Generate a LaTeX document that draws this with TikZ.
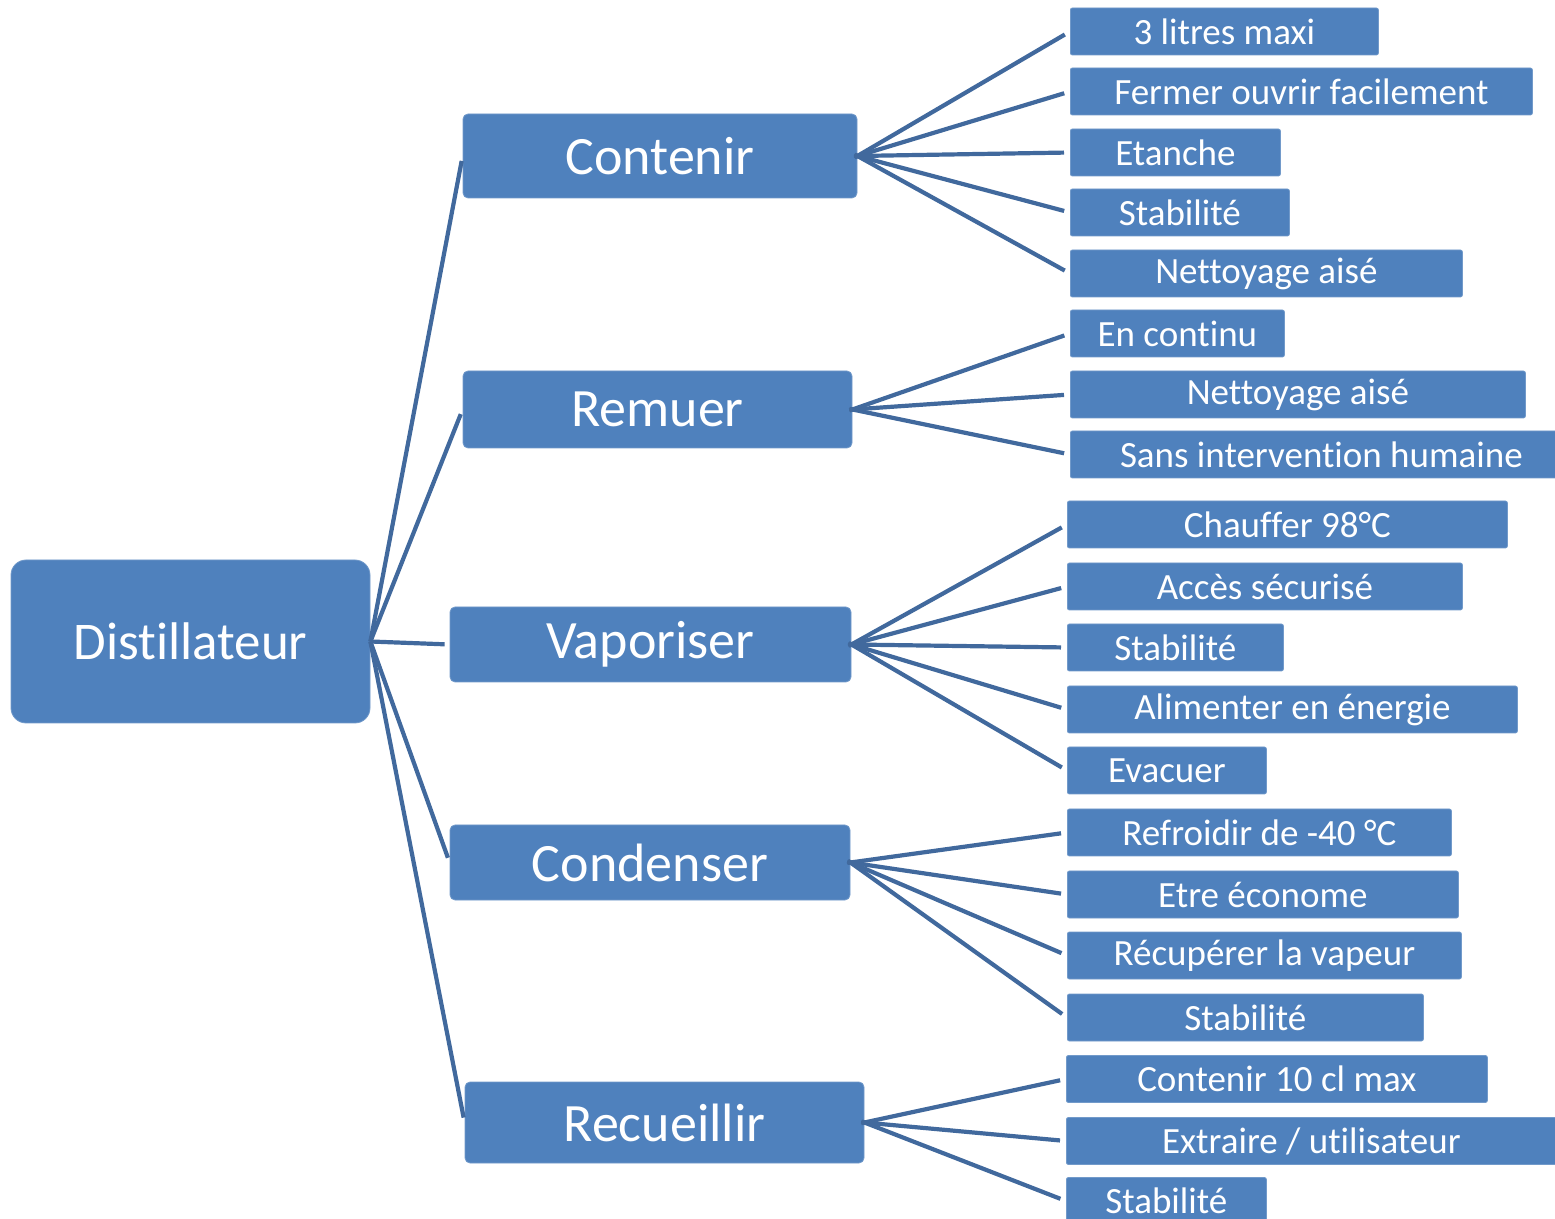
\documentclass[tikz,border=0pt]{standalone}
\usepackage{fontspec}
\setmainfont{Carlito}[Ligatures={NoCommon,NoContextual}]
\usepackage{xcolor}
\usepackage{tikz}
\definecolor{boxblue}{HTML}{4F81BD}
\definecolor{edgeblue}{HTML}{41699D}

\begin{document}
\begin{tikzpicture}[
        x=0.5pt, y=-0.5pt,
        root/.style={rectangle, rounded corners=7.5pt, fill=boxblue,
                draw=boxblue!80!white, line width=0.4pt, text=white,
                minimum width=179.5pt, minimum height=81.5pt,
                font=\fontsize{26.5}{32}\selectfont},
        func/.style={rectangle, rounded corners=2.5pt, fill=boxblue,
                draw=boxblue!80!white, line width=0.4pt, text=white,
                font=\fontsize{27}{32}\selectfont},
        leaf/.style={rectangle, rounded corners=1pt, fill=boxblue,
                draw=boxblue!80!white, line width=0.4pt, text=white,
                anchor=west, minimum height=23.5pt, inner sep=0pt,
                font=\fontsize{18.5}{22}\selectfont},
        edge/.style={edgeblue, line width=2.1pt},
        leafedge/.style={edge, shorten <=-1.5pt, shorten >=3pt},
    ]
    \useasboundingbox (0,0) rectangle (1555,1219);

    \node[root] (root) at (190.5, 641.5) {Distillateur};

    \node[func, minimum width=197pt, minimum height=42pt]
        (contenir) at (660, 156) {Contenir};
    \node[func, minimum width=194.5pt, minimum height=38.5pt]
        (remuer) at (657.5, 409.5) {Remuer};
    \node[func, minimum width=200.5pt, minimum height=37.5pt]
        (vaporiser) at (650.5, 644.5) {Vaporiser};
    \node[func, minimum width=200pt, minimum height=37.5pt]
        (condenser) at (650, 862.5) {Condenser};
    \node[func, minimum width=199.5pt, minimum height=40.5pt]
        (recueillir) at (664.5, 1122.5) {Recueillir};

    % Contenir
    \node[leaf, minimum width=154pt] (cont1) at (1070, 31.5) {3 litres maxi};
    \node[leaf, minimum width=231pt] (cont2) at (1070, 91.5) {Fermer ouvrir facilement};
    \node[leaf, minimum width=105pt] (cont3) at (1070, 152.5) {Etanche};
    \node[leaf, minimum width=109.5pt] (cont4) at (1070, 212.5) {Stabilité};
    \node[leaf, minimum width=196pt] (cont5) at (1070, 273.5) {Nettoyage aisé};

    % Remuer
    \node[leaf, minimum width=107pt] (rem1) at (1070, 333.5) {En continu};
    \node[leaf, minimum width=227.5pt] (rem2) at (1070, 394.5) {Nettoyage aisé};
    \node[leaf, minimum width=251pt] (rem3) at (1070, 454.5) {Sans intervention humaine};

    % Vaporiser
    \node[leaf, minimum width=220pt] (vap1) at (1067, 524.5) {Chauffer 98°C};
    \node[leaf, minimum width=197.5pt] (vap2) at (1067, 586.5) {Accès sécurisé};
    \node[leaf, minimum width=108pt] (vap3) at (1067, 647.5) {Stabilité};
    \node[leaf, minimum width=225pt] (vap4) at (1067, 709.5) {Alimenter en énergie};
    \node[leaf, minimum width=99.5pt] (vap5) at (1067, 770.5) {Evacuer};

    % Condenser
    \node[leaf, minimum width=192pt] (cond1) at (1067, 832.5) {Refroidir de -40 °C};
    \node[leaf, minimum width=195.5pt] (cond2) at (1067, 894.5) {Etre économe};
    \node[leaf, minimum width=197pt] (cond3) at (1067, 955.5) {Récupérer la vapeur};
    \node[leaf, minimum width=178pt] (cond4) at (1067, 1017.5) {Stabilité};

    % Recueillir
    \node[leaf, minimum width=210.5pt] (rec1) at (1066, 1079) {Contenir 10 cl max};
    \node[leaf, minimum width=245pt] (rec2) at (1066, 1141) {Extraire / utilisateur};
    \node[leaf, minimum width=100pt] (rec3) at (1066, 1201) {Stabilité};

    \foreach \n in {contenir, remuer, vaporiser, condenser, recueillir}
        \draw[edge, shorten >=2.5pt] (root.east) -- (\n.west);

    \foreach \i in {1,...,5}
        \draw[leafedge] (contenir.east) -- (cont\i.west);
    \foreach \i in {1,...,3}
        \draw[leafedge] (remuer.east) -- (rem\i.west);
    \foreach \i in {1,...,5}
        \draw[leafedge] (vaporiser.east) -- (vap\i.west);
    \foreach \i in {1,...,4}
        \draw[leafedge] (condenser.east) -- (cond\i.west);
    \foreach \i in {1,...,3}
        \draw[leafedge] (recueillir.east) -- (rec\i.west);
\end{tikzpicture}
\end{document}
